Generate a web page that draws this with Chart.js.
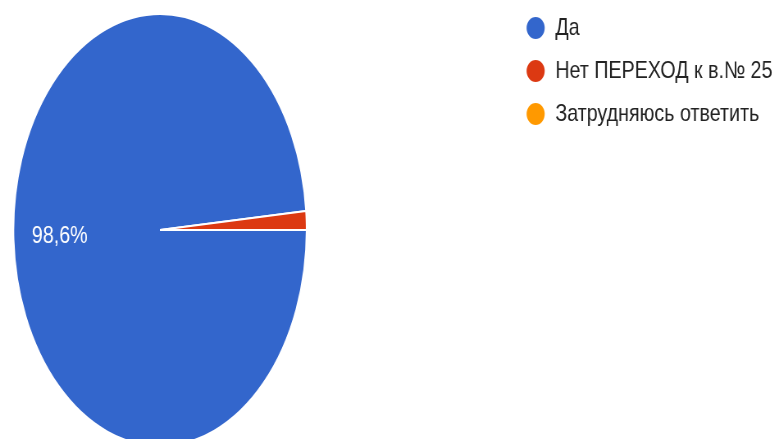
<!DOCTYPE html>
<html>
<head>
<meta charset="utf-8">
<title>Pie</title>
<script src="https://cdn.jsdelivr.net/npm/chart.js@4"></script>
<style>
  html, body { margin: 0; padding: 0; background: #fff; overflow: hidden; }
  /* the reference picture is squeezed horizontally, so the whole chart is too */
  #wrap { position: absolute; left: 0; top: 0; width: 945px; height: 439px; transform-origin: 0 0; transform: scaleX(0.82); }
</style>
</head>
<body>
<div id="wrap"><canvas id="pieChart"></canvas></div>
<script>
// data
const answers = ['Да', 'Нет ПЕРЕХОД к в.№ 25', 'Затрудняюсь ответить'];
const percents = [98.6, 1.4, 0];
const sliceColors = ['#3366CC', '#DC3912', '#FF9900'];

// where the (elliptic) pie sits, in canvas px before the css squeeze
const PIE_X = 160 / 0.82;
const PIE_Y = 230;
const PIE_SX = 0.827; // extra horizontal squeeze of the pie only

const squeezePie = {
    id: 'squeezePie',
    beforeDatasetsDraw(chart) {
        const arc = chart.getDatasetMeta(0).data[0];
        const ctx = chart.ctx;
        ctx.save();
        ctx.translate(PIE_X, PIE_Y);
        ctx.scale(PIE_SX, 1);
        ctx.translate(-arc.x, -arc.y);
    },
    afterDatasetsDraw(chart) {
        const ctx = chart.ctx;
        ctx.restore();
        // percent label inside the big slice
        const meta = chart.getDatasetMeta(0);
        meta.data.forEach((arc, i) => {
            if (percents[i] < 5) return;
            const mid = (arc.startAngle + arc.endAngle) / 2;
            const r = arc.outerRadius * 0.685;
            const x = PIE_X + Math.cos(mid) * r * PIE_SX;
            const y = PIE_Y + Math.sin(mid) * r;
            ctx.save();
            ctx.fillStyle = '#ffffff';
            ctx.font = '24px "Liberation Sans", Arial';
            ctx.textAlign = 'center';
            ctx.textBaseline = 'middle';
            ctx.fillText(percents[i].toFixed(1).replace('.', ',') + '%', x, y);
            ctx.restore();
        });
    }
};

const ctx = document.getElementById('pieChart').getContext('2d');
new Chart(ctx, {
    type: 'pie',
    data: {
        labels: answers,
        datasets: [{
            data: percents,
            backgroundColor: sliceColors,
            borderColor: '#ffffff',
            borderWidth: 2,
            radius: 216
        }]
    },
    options: {
        responsive: true,
        maintainAspectRatio: false,
        animation: false,
        rotation: 90,
        layout: { padding: { top: -3, right: -7, bottom: 0, left: 0 } },
        plugins: {
            tooltip: { enabled: false },
            legend: {
                position: 'right',
                align: 'start',
                labels: {
                    usePointStyle: true,
                    pointStyle: 'circle',
                    boxHeight: 15.6,
                    padding: 19,
                    color: '#222222',
                    font: { family: '"Liberation Sans", Arial', size: 24 },
                    generateLabels(chart) {
                        const items = Chart.overrides.pie.plugins.legend.labels.generateLabels(chart);
                        items.forEach(it => { it.lineWidth = 0; });
                        return items;
                    }
                }
            }
        }
    },
    plugins: [squeezePie]
});
</script>
</body>
</html>
